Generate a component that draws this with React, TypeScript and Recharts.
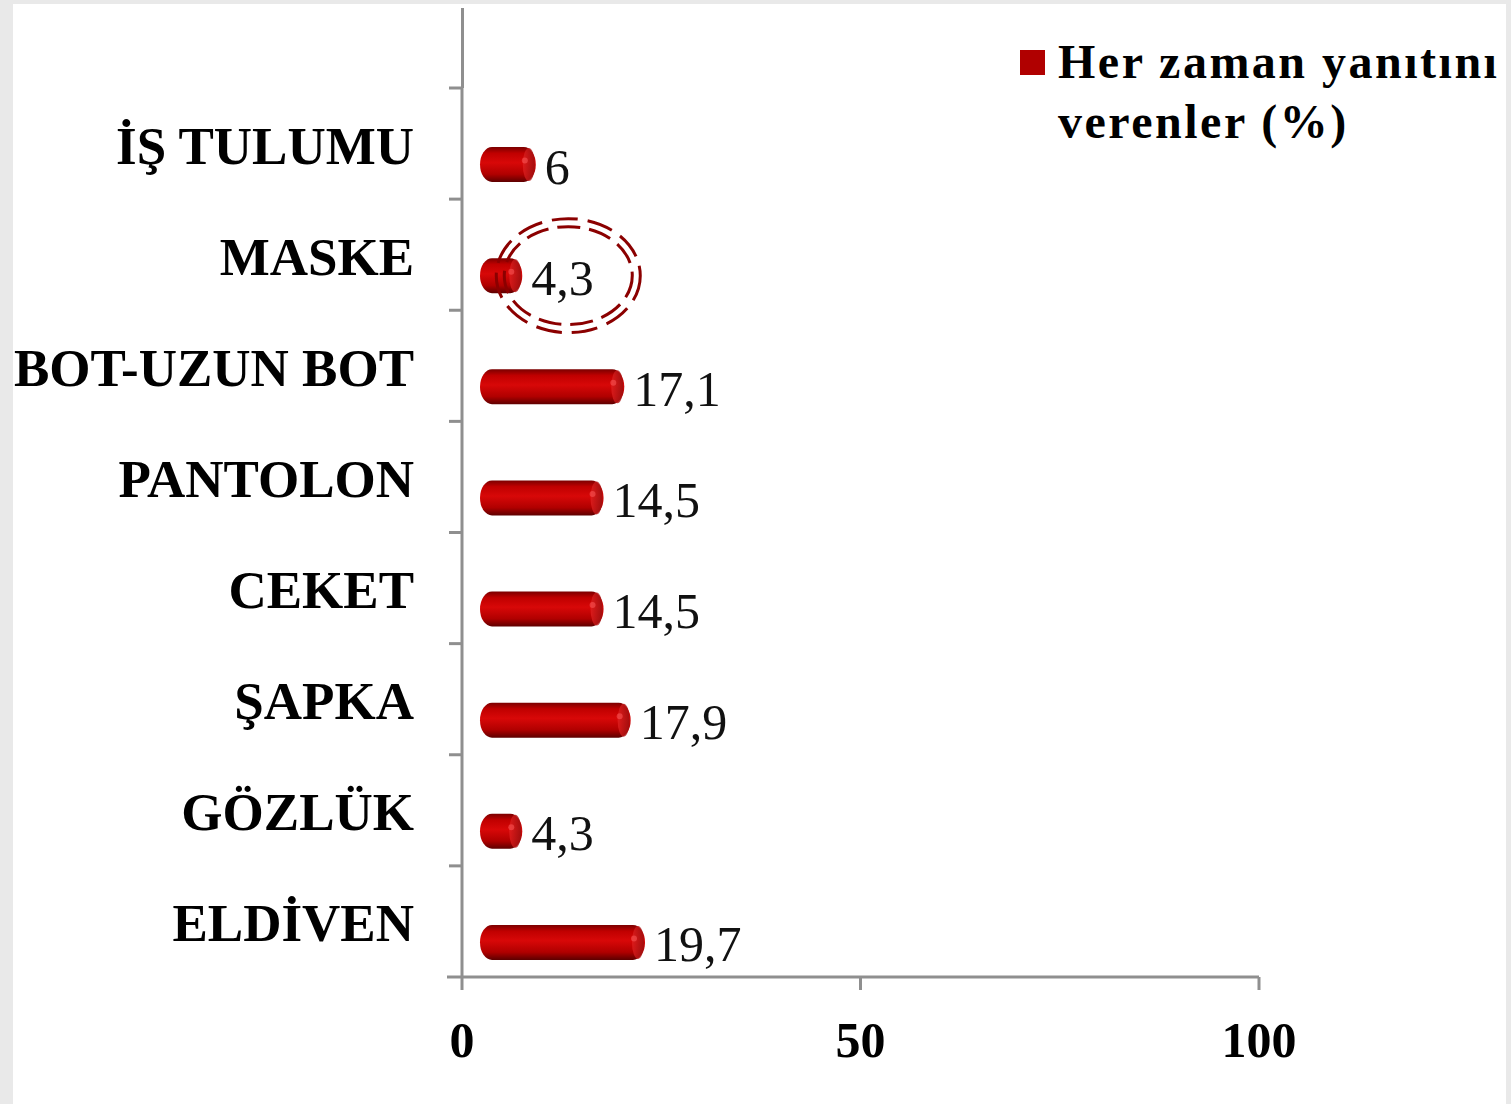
import React from "react";
import { BarChart, Bar, XAxis, YAxis, LabelList } from "recharts";

const categories = ["İŞ TULUMU", "MASKE", "BOT-UZUN BOT", "PANTOLON", "CEKET", "ŞAPKA", "GÖZLÜK", "ELDİVEN"];
const values = [6, 4.3, 17.1, 14.5, 14.5, 17.9, 4.3, 19.7];
const seriesName = ["Her zaman yanıtını", "verenler (%)"];
const xTicks = [0, 50, 100];
const highlighted = ["MASKE"];

const data = categories.map((c, i) => ({ name: c, value: values[i] }));

const W = 1511;
const H = 1104;
const PLOT_TOP = 88;
const PLOT_BOTTOM = 977;
const PLOT_LEFT = 462;
const PLOT_RIGHT = 1259;
const BAND = (PLOT_BOTTOM - PLOT_TOP) / categories.length;
const AXIS = "#8f8f8f";
const SERIF = "'Liberation Serif', 'Times New Roman', serif";
const DX = 18; // 3D depth offset
const DY = 21;

const fmt = (v: number) => String(v).replace(".", ",");

const BarShape = (props: any) => {
  const { x, y, width, height } = props;
  const cy = y + height / 2 + DY;
  const h = 35;
  const bx = x + DX;
  const bw = Math.max(width + 8, 24);
  return (
    <g>
      <rect x={bx} y={cy - h / 2} width={bw} height={h} rx={12} ry={h / 2} fill="url(#barGrad)" />
      <ellipse cx={bx + bw - 7} cy={cy} rx={6} ry={h / 2 - 1} fill="url(#capGrad)" opacity={0.8} />
      <ellipse cx={bx + bw - 11} cy={cy - 4} rx={3} ry={3} fill="#ff6060" opacity={0.5} />
    </g>
  );
};

const ValueLabel = (props: any) => {
  const { x, y, width, height, value, index } = props;
  const cy = y + height / 2 + DY;
  const tx = x + DX + width + 8 + 9;
  const circled = highlighted.includes(categories[index]);
  return (
    <g>
      <text x={tx} y={cy + 19} fontFamily={SERIF} fontSize={50} fill="#111">
        {fmt(value)}
      </text>
      {circled && (
        <g fill="none" stroke="#8b0000" strokeWidth={3}>
          <ellipse cx={tx + 37} cy={cy} rx={72} ry={57} strokeDasharray="26 10" />
          <ellipse cx={tx + 37} cy={cy} rx={64} ry={49} strokeDasharray="23 9" />
        </g>
      )}
    </g>
  );
};

const YTick = (props: any) => {
  const { y, payload, index } = props;
  return (
    <g>
      <line x1={PLOT_LEFT - 13} x2={PLOT_LEFT} y1={y - BAND / 2} y2={y - BAND / 2} stroke={AXIS} strokeWidth={3} />
      {index === categories.length - 1 && (
        <line x1={PLOT_LEFT - 15} x2={PLOT_LEFT} y1={y + BAND / 2} y2={y + BAND / 2} stroke={AXIS} strokeWidth={3} />
      )}
      <text
        x={PLOT_LEFT - 48}
        y={y + 20}
        textAnchor="end"
        fontFamily={SERIF}
        fontWeight="bold"
        fontSize={53}
        fill="#000"
      >
        {payload.value}
      </text>
    </g>
  );
};

export default function App() {
  return (
    <div style={{ position: "absolute", left: 0, top: 0, width: W, height: H, background: "#e9e9e9", overflow: "hidden" }}>
      <div style={{ position: "absolute", left: 13, top: 4, width: W - 18, height: H - 4, background: "#ffffff" }} />
      <div style={{ position: "absolute", left: 0, top: 0 }}>
        <BarChart
          width={W}
          height={H}
          data={data}
          layout="vertical"
          margin={{ top: PLOT_TOP, right: W - PLOT_RIGHT, bottom: 0, left: 12 }}
          barCategoryGap={0}
        >
          <defs>
            <linearGradient id="barGrad" x1="0" y1="0" x2="0" y2="1">
              <stop offset="0%" stopColor="#7a0000" />
              <stop offset="18%" stopColor="#c00000" />
              <stop offset="45%" stopColor="#d80808" />
              <stop offset="78%" stopColor="#b00000" />
              <stop offset="100%" stopColor="#5e0000" />
            </linearGradient>
            <linearGradient id="capGrad" x1="0" y1="0" x2="1" y2="0">
              <stop offset="0%" stopColor="#e02020" />
              <stop offset="100%" stopColor="#9a1010" />
            </linearGradient>
          </defs>
          <XAxis
            type="number"
            domain={[0, 100]}
            ticks={xTicks}
            interval={0}
            height={H - PLOT_BOTTOM}
            axisLine={{ stroke: AXIS, strokeWidth: 3 }}
            tickLine={{ stroke: AXIS, strokeWidth: 3 }}
            tickSize={13}
            tickMargin={31}
            tick={{ fontFamily: SERIF, fontWeight: "bold", fontSize: 50, fill: "#000" }}
          />
          <YAxis
            type="category"
            dataKey="name"
            width={PLOT_LEFT - 12}
            axisLine={{ stroke: AXIS, strokeWidth: 3 }}
            tickLine={false}
            tickSize={0}
            tickMargin={0}
            interval={0}
            tick={<YTick />}
          />
          <Bar dataKey="value" isAnimationActive={false} shape={<BarShape />} barSize={35}>
            <LabelList dataKey="value" content={<ValueLabel />} />
          </Bar>
        </BarChart>
      </div>
      {/* back-wall extension of the value axis above the first category */}
      <div style={{ position: "absolute", left: PLOT_LEFT - 1.5, top: 8, width: 3, height: PLOT_TOP - 8, background: AXIS }} />
      <div style={{ position: "absolute", left: 1020, top: 32, fontFamily: SERIF, fontWeight: "bold", fontSize: 48, lineHeight: "60px", color: "#000", letterSpacing: 2.5 }}>
        <div style={{ display: "flex", alignItems: "center" }}>
          <span style={{ display: "inline-block", width: 25, height: 25, background: "#b00000", marginRight: 13 }} />
          <span>{seriesName[0]}</span>
        </div>
        <div style={{ paddingLeft: 38 }}>{seriesName[1]}</div>
      </div>
    </div>
  );
}
